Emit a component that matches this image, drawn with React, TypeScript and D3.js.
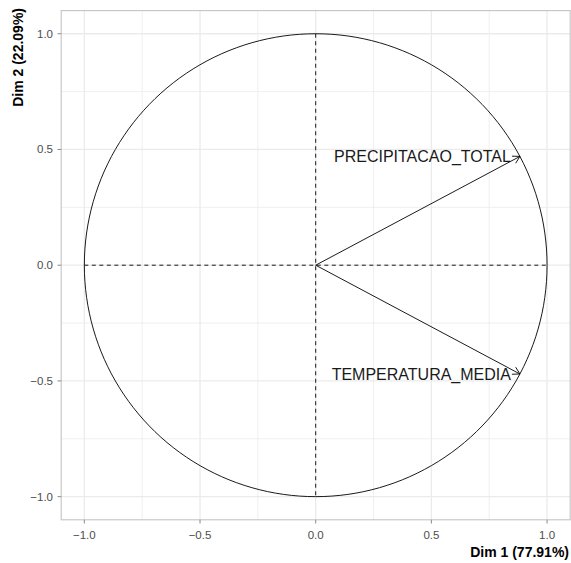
import React from "react";
import * as d3 from "d3";

const variables = ["PRECIPITACAO_TOTAL", "TEMPERATURA_MEDIA"];
const dim1 = [0.8827, 0.8827];
const dim2 = [0.47, -0.47];
const ticks = [-1.0, -0.5, 0.0, 0.5, 1.0];
const minorTicks = [-0.75, -0.25, 0.25, 0.75];
const xTitle = "Dim 1 (77.91%)";
const yTitle = "Dim 2 (22.09%)";

const W = 571;
const H = 563;

export default function App() {
  const x = d3.scaleLinear().domain([-1.1, 1.1]).range([61.2, 570.2]);
  const y = d3.scaleLinear().domain([-1.1, 1.1]).range([519.8, 10.6]);
  const circlePts: [number, number][] = d3.range(0, 361, 2).map((a) => {
    const r = (a * Math.PI) / 180;
    return [x(Math.cos(r)), y(Math.sin(r))];
  });
  const line = d3.line();
  const fmt = d3.format(".1f");
  const [x0, x1] = x.range();
  const [y0, y1] = y.range();
  const grid = "#EBEBEB";
  return (
    <svg width={W} height={H} style={{ position: "absolute", left: 0, top: 0, fontFamily: "Liberation Sans, Arial, sans-serif" }}>
      <rect x={0} y={0} width={W} height={H} fill="#fff" />
      {minorTicks.map((t) => (
        <g key={"m" + t}>
          <line x1={x(t)} x2={x(t)} y1={y1} y2={y0} stroke={grid} strokeWidth={0.8} />
          <line x1={x0} x2={x1} y1={y(t)} y2={y(t)} stroke={grid} strokeWidth={0.8} />
        </g>
      ))}
      {ticks.map((t) => (
        <g key={"g" + t}>
          <line x1={x(t)} x2={x(t)} y1={y1} y2={y0} stroke={grid} strokeWidth={1.3} />
          <line x1={x0} x2={x1} y1={y(t)} y2={y(t)} stroke={grid} strokeWidth={1.3} />
        </g>
      ))}
      <rect x={x0} y={y1} width={x1 - x0} height={y0 - y1} fill="none" stroke="#c4c4c4" strokeWidth={1.1} />
      {ticks.map((t) => (
        <g key={"t" + t}>
          <line x1={x(t)} x2={x(t)} y1={y0} y2={y0 + 3.7} stroke="#8a8a8a" strokeWidth={1} />
          <text x={x(t)} y={539} textAnchor="middle" fontSize={11.5} fill="#4D4D4D">{fmt(t)}</text>
          <line x1={x0 - 3.7} x2={x0} y1={y(t)} y2={y(t)} stroke="#8a8a8a" strokeWidth={1} />
          <text x={53} y={y(t) + 4} textAnchor="end" fontSize={11.5} fill="#4D4D4D">{fmt(t)}</text>
        </g>
      ))}
      <path d={line(circlePts) || ""} fill="none" stroke="#000" strokeWidth={0.9} />
      <line x1={x(-1)} x2={x(1)} y1={y(0)} y2={y(0)} stroke="#000" strokeWidth={0.9} strokeDasharray="4,3.5" />
      <line x1={x(0)} x2={x(0)} y1={y(1)} y2={y(-1)} stroke="#000" strokeWidth={0.9} strokeDasharray="4,3.5" />
      {variables.map((v, i) => {
        const tx = x(dim1[i]);
        const ty = y(dim2[i]);
        const sx = x(0);
        const sy = y(0);
        const ang = Math.atan2(ty - sy, tx - sx);
        const L = 8;
        const a1 = ang + Math.PI - Math.PI / 6;
        const a2 = ang + Math.PI + Math.PI / 6;
        return (
          <g key={v}>
            <line x1={sx} y1={sy} x2={tx} y2={ty} stroke="#000" strokeWidth={0.9} />
            <path
              d={`M${tx + L * Math.cos(a1)},${ty + L * Math.sin(a1)}L${tx},${ty}L${tx + L * Math.cos(a2)},${ty + L * Math.sin(a2)}`}
              fill="none"
              stroke="#000"
              strokeWidth={0.9}
            />
            <text x={tx - 9} y={ty + 6} textAnchor="end" fontSize={16} fill="#1a1a1a">{v}</text>
          </g>
        );
      })}
      <text x={569} y={557} textAnchor="end" fontSize={14} fontWeight="bold" fill="#000">{xTitle}</text>
      <text transform={`translate(23,8) rotate(-90)`} textAnchor="end" fontSize={14} fontWeight="bold" fill="#000">{yTitle}</text>
    </svg>
  );
}
